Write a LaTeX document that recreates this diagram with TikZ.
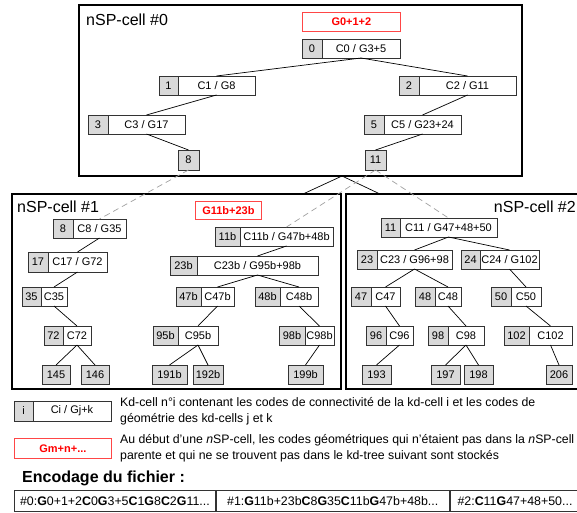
\documentclass[tikz,border=0pt]{standalone}
\usepackage{fontspec}
\setmainfont{Liberation Sans}
\usepackage{xcolor}
\usepackage{tikz}

\definecolor{idgray}{RGB}{217,217,217}
\definecolor{redline}{RGB}{255,70,70}
\definecolor{dashgray}{RGB}{160,160,160}

\begin{document}
\begin{tikzpicture}[x=1pt,y=-1pt,
  idbox/.style={draw=black!80, fill=idgray, line width=0.8pt, minimum height=19pt,
    inner sep=0pt, outer sep=0pt, anchor=north west, font=\fontsize{11}{13}\selectfont},
  codebox/.style={idbox, fill=white},
  redbox/.style={draw=redline, line width=0.8pt, minimum height=19pt, inner sep=0pt,
    anchor=north west, text=red, font=\fontsize{11}{13}\selectfont\bfseries},
  cellframe/.style={draw=black, line width=1.6pt},
  celltitle/.style={inner sep=0pt, font=\fontsize{16}{18}\selectfont},
  link/.style={draw=black, line width=0.7pt},
  dashlink/.style={draw=dashgray, line width=0.7pt, dash pattern=on 6pt off 4pt},
  legendtext/.style={inner sep=0pt, anchor=west, align=left, font=\fontsize{12.3}{16}\selectfont},
  encbox/.style={draw=black!80, line width=0.8pt, minimum height=21pt, inner sep=0pt,
    anchor=north west, font=\fontsize{12.4}{14}\selectfont}]
\useasboundingbox (0,0) rectangle (577,512);

% Premier cadre : nSP-cell #0
\draw[cellframe] (79,5) rectangle (522,176);
\node[celltitle, anchor=west] (t0) at (86,20) {nSP-cell \#0};
\node[redbox, minimum width=98pt] (g0) at (302,12) {G0+1+2};

\node[idbox, minimum width=20pt] (a0) at (302,39) {0};
\node[codebox, minimum width=78pt] (a0t) at (a0.north east) {C0 / G3+5};
\node[idbox, minimum width=19pt] (a1) at (159,76) {1};
\node[codebox, minimum width=77pt] (a1t) at (a1.north east) {C1 / G8};
\node[idbox, minimum width=20pt] (a2) at (399,76) {2};
\node[codebox, minimum width=97pt] (a2t) at (a2.north east) {C2 / G11};
\node[idbox, minimum width=20pt] (a3) at (88,115) {3};
\node[codebox, minimum width=77pt] (a3t) at (a3.north east) {C3 / G17};
\node[idbox, minimum width=20pt] (a5) at (364,115) {5};
\node[codebox, minimum width=77pt] (a5t) at (a5.north east) {C5 / G23+24};
\node[idbox, minimum width=21pt, minimum height=20pt] (a8) at (178,150) {8};
\node[idbox, minimum width=21pt, minimum height=20pt] (a11) at (365,150) {11};

\draw[link] (a0t.south) -- (a1t.north);
\draw[link] (a0t.south) -- (a2t.north);
\draw[link] (a1t.south) -- (a3t.north);
\draw[link] (a3t.south) -- (a8.north);
\draw[link] (a2t.south) -- (a5t.north);
\draw[link] (a5t.south) -- (a11.north);

% Deuxieme cadre : nSP-cell #1
\draw[cellframe] (12,194) rectangle (341,389);
\node[celltitle, anchor=west] (t1) at (17,207) {nSP-cell \#1};
\node[redbox, minimum width=66pt, minimum height=18pt] (g1) at (195,201) {G11b+23b};

\node[idbox, minimum width=20pt] (b8) at (53,219) {8};
\node[codebox, minimum width=53pt] (b8t) at (b8.north east) {C8 / G35};
\node[idbox, minimum width=25pt] (b11b) at (215,227) {11b};
\node[codebox, minimum width=93pt] (b11bt) at (b11b.north east) {C11b / G47b+48b};
\node[idbox, minimum width=20pt, minimum height=20pt] (b17) at (28,252) {17};
\node[codebox, minimum width=59pt, minimum height=20pt] (b17t) at (b17.north east) {C17 / G72};
\node[idbox, minimum width=27pt] (b23b) at (170,256) {23b};
\node[codebox, minimum width=121pt] (b23bt) at (b23b.north east) {C23b / G95b+98b};
\node[idbox, minimum width=19pt] (b35) at (22,287) {35};
\node[codebox, minimum width=26pt] (b35t) at (b35.north east) {C35};
\node[idbox, minimum width=25pt] (b47b) at (176,287) {47b};
\node[codebox, minimum width=33pt] (b47bt) at (b47b.north east) {C47b};
\node[idbox, minimum width=25pt] (b48b) at (255,287) {48b};
\node[codebox, minimum width=38pt] (b48bt) at (b48b.north east) {C48b};
\node[idbox, minimum width=19pt] (b72) at (44,326) {72};
\node[codebox, minimum width=28pt] (b72t) at (b72.north east) {C72};
\node[idbox, minimum width=25pt] (b95b) at (153,326) {95b};
\node[codebox, minimum width=40pt] (b95bt) at (b95b.north east) {C95b};
\node[idbox, minimum width=26pt] (b98b) at (279,326) {98b};
\node[codebox, minimum width=29pt] (b98bt) at (b98b.north east) {C98b};
\node[idbox, minimum width=28pt] (b145) at (42,365) {145};
\node[idbox, minimum width=28pt] (b146) at (81,365) {146};
\node[idbox, minimum width=35pt] (b191b) at (152,365) {191b};
\node[idbox, minimum width=30pt] (b192b) at (193,365) {192b};
\node[idbox, minimum width=35pt] (b199b) at (288,365) {199b};

\draw[link] (b8t.south) -- (b17t.north);
\draw[link] (b17t.south) -- (b35t.north);
\draw[link] (b35t.south) -- (b72t.north);
\draw[link] (b72t.south) -- (b145.north);
\draw[link] (b72t.south) -- (b146.north);
\draw[link] (b11bt.south) -- (b23bt.north);
\draw[link] (b23bt.south) -- (b47bt.north);
\draw[link] (b23bt.south) -- (b48bt.north);
\draw[link] (b47bt.south) -- (b95bt.north);
\draw[link] (b95bt.south) -- (b191b.north);
\draw[link] (b95bt.south) -- (b192b.north);
\draw[link] (b48bt.south) -- (b98bt.north);
\draw[link] (b98bt.south) -- (b199b.north);

% Troisieme cadre : nSP-cell #2
\draw[cellframe] (346,194) rectangle (579,389);
\node[celltitle, anchor=east] (t2) at (576,207) {nSP-cell \#2};

\node[idbox, minimum width=19pt] (c11) at (381,218) {11};
\node[codebox, minimum width=97pt] (c11t) at (c11.north east) {C11 / G47+48+50};
\node[idbox, minimum width=20pt] (c23) at (357,250) {23};
\node[codebox, minimum width=75pt] (c23t) at (c23.north east) {C23 / G96+98};
\node[idbox, minimum width=19pt] (c24) at (461,250) {24};
\node[codebox, minimum width=59pt] (c24t) at (c24.north east) {C24 / G102};
\node[idbox, minimum width=20pt] (c47) at (351,287) {47};
\node[codebox, minimum width=29pt] (c47t) at (c47.north east) {C47};
\node[idbox, minimum width=20pt] (c48) at (415,287) {48};
\node[codebox, minimum width=26pt] (c48t) at (c48.north east) {C48};
\node[idbox, minimum width=20pt] (c50) at (491,287) {50};
\node[codebox, minimum width=30pt] (c50t) at (c50.north east) {C50};
\node[idbox, minimum width=20pt] (c96) at (366,326) {96};
\node[codebox, minimum width=27pt] (c96t) at (c96.north east) {C96};
\node[idbox, minimum width=20pt] (c98) at (428,326) {98};
\node[codebox, minimum width=36pt] (c98t) at (c98.north east) {C98};
\node[idbox, minimum width=25pt] (c102) at (504,326) {102};
\node[codebox, minimum width=43pt] (c102t) at (c102.north east) {C102};
\node[idbox, minimum width=29pt] (c193) at (362,365) {193};
\node[idbox, minimum width=29pt] (c197) at (431,365) {197};
\node[idbox, minimum width=29pt] (c198) at (464,365) {198};
\node[idbox, minimum width=26pt] (c206) at (546,365) {206};

\draw[link] (c11t.south) -- (c23t.north);
\draw[link] (c11t.south) -- (c24t.north);
\draw[link] (c23t.south) -- (c47t.north);
\draw[link] (c23t.south) -- (c48t.north);
\draw[link] (c24t.south) -- (c50t.north);
\draw[link] (c47t.south) -- (c96t.north);
\draw[link] (c48t.south) -- (c98t.north);
\draw[link] (c50t.south) -- (c102t.north);
\draw[link] (c96t.south) -- (c193.north);
\draw[link] (c98t.south) -- (c197.north);
\draw[link] (c98t.south) -- (c198.north);
\draw[link] (c102t.south) -- (c206.north);

% liens entre les cadres
\coordinate (j0) at (342,176);
\coordinate (j1) at (303,194);
\coordinate (j2) at (380,194);
\draw[link] (j0) -- (j1);
\draw[link] (j0) -- (j2);
\draw[dashlink] (a8.south) -- (b8t.north);
\draw[dashlink] (a11.south) -- (b11bt.north);
\draw[dashlink] (a11.south) -- (c11t.north);

% Legende
\node[idbox, minimum width=19pt, minimum height=20pt] (d0) at (14,401) {i};
\node[codebox, minimum width=78pt, minimum height=20pt] (d0t) at (d0.north east) {Ci / Gj+k};
\node[redbox, minimum width=97pt, minimum height=20pt] (dr) at (14,438) {Gm+n+...};
\node[legendtext] (l1) at (120,411) {Kd-cell n°i contenant les codes de connectivité de la kd-cell i et les codes de\\géométrie des kd-cells j et k};
\node[legendtext] (l2) at (120,448) {Au début d’une \textit{n}SP-cell, les codes géométriques qui n’étaient pas dans la \textit{n}SP-cell\\parente et qui ne se trouvent pas dans le kd-tree suivant sont stockés};

% Encodage
\node[inner sep=0pt, anchor=west, font=\fontsize{16}{18}\selectfont\bfseries] (enc) at (22,478) {Encodage du fichier :};
\node[encbox, minimum width=201pt] (e0) at (14,490) {\#0:\textbf{G}0+1+2\textbf{C}0\textbf{G}3+5\textbf{C}1\textbf{G}8\textbf{C}2\textbf{G}11...};
\node[encbox, minimum width=233pt] (e1) at (e0.north east) {\#1:\textbf{G}11b+23b\textbf{C}8\textbf{G}35\textbf{C}11b\textbf{G}47b+48b...};
\node[encbox, minimum width=130pt] (e2) at (e1.north east) {\#2:\textbf{C}11\textbf{G}47+48+50...};

\end{tikzpicture}
\end{document}
